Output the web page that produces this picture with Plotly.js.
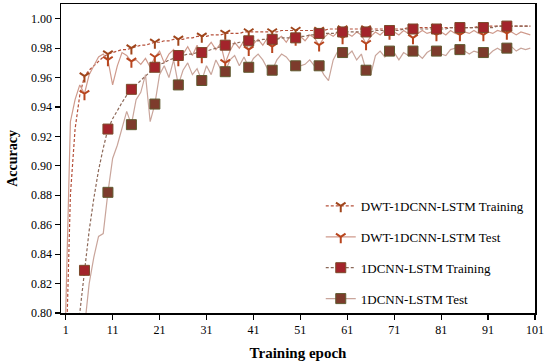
<!DOCTYPE html>
<html>
<head>
<meta charset="utf-8">
<script src="https://cdn.plot.ly/plotly-3.0.1.min.js"></script>
<style>html,body{margin:0;padding:0;background:#fff}#chart{width:550px;height:362px}</style>
</head>
<body>
<div id="chart"></div>
<script>
// Epochs 1..100
var epochs = [];
for (var i = 1; i <= 100; i++) epochs.push(i);

var seriesNames = ["DWT-1DCNN-LSTM Training", "DWT-1DCNN-LSTM Test", "1DCNN-LSTM Training", "1DCNN-LSTM Test"];

var dwtTrain = [0.760,0.880,0.925,0.948,0.961,0.965,0.968,0.971,0.974,0.976,
0.977,0.978,0.979,0.979,0.980,0.981,0.982,0.982,0.983,0.984,
0.984,0.985,0.985,0.986,0.986,0.986,0.987,0.987,0.988,0.988,
0.988,0.989,0.989,0.989,0.990,0.990,0.990,0.990,0.991,0.991,
0.991,0.991,0.991,0.991,0.991,0.991,0.992,0.992,0.992,0.992,
0.992,0.992,0.992,0.992,0.992,0.992,0.993,0.993,0.993,0.993,
0.993,0.993,0.993,0.993,0.993,0.993,0.993,0.993,0.993,0.993,
0.993,0.993,0.993,0.994,0.994,0.994,0.994,0.994,0.994,0.994,
0.994,0.994,0.994,0.994,0.994,0.994,0.994,0.994,0.995,0.995,
0.995,0.995,0.995,0.995,0.995,0.995,0.995,0.995,0.995,0.995];

var dwtTest = [0.800,0.930,0.945,0.955,0.949,0.962,0.968,0.974,0.976,0.972,
0.955,0.968,0.977,0.975,0.971,0.972,0.969,0.973,0.967,0.974,
0.978,0.970,0.976,0.979,0.972,0.976,0.981,0.975,0.982,0.974,
0.980,0.984,0.979,0.983,0.970,0.978,0.984,0.980,0.985,0.979,
0.983,0.986,0.982,0.987,0.981,0.986,0.988,0.984,0.989,0.986,
0.988,0.985,0.989,0.987,0.982,0.987,0.990,0.988,0.991,0.987,
0.990,0.988,0.991,0.989,0.983,0.988,0.991,0.989,0.992,0.990,
0.991,0.989,0.992,0.990,0.987,0.990,0.992,0.990,0.991,0.989,
0.991,0.989,0.992,0.990,0.989,0.991,0.990,0.992,0.990,0.989,
0.991,0.990,0.992,0.991,0.990,0.991,0.989,0.991,0.990,0.989];

var cnnTrain = [0.700,0.740,0.770,0.800,0.829,0.856,0.878,0.897,0.912,0.925,
0.932,0.938,0.943,0.948,0.952,0.955,0.958,0.961,0.964,0.967,
0.969,0.970,0.972,0.973,0.975,0.975,0.976,0.976,0.977,0.977,
0.978,0.979,0.980,0.981,0.982,0.983,0.983,0.984,0.984,0.985,
0.985,0.985,0.986,0.986,0.986,0.986,0.987,0.987,0.987,0.987,
0.988,0.988,0.989,0.989,0.990,0.990,0.990,0.990,0.991,0.991,
0.991,0.991,0.991,0.991,0.991,0.991,0.992,0.992,0.992,0.992,
0.992,0.992,0.993,0.993,0.993,0.993,0.993,0.993,0.993,0.993,
0.993,0.993,0.994,0.994,0.994,0.994,0.994,0.994,0.994,0.994,
0.994,0.994,0.995,0.995,0.995,0.995,0.995,0.995,0.995,0.995];

var cnnTest = [0.700,0.730,0.760,0.780,0.790,0.820,0.838,0.852,0.854,0.882,
0.905,0.914,0.926,0.937,0.928,0.945,0.950,0.962,0.930,0.942,
0.962,0.968,0.960,0.972,0.955,0.965,0.970,0.962,0.966,0.958,
0.968,0.962,0.972,0.966,0.964,0.972,0.975,0.968,0.974,0.967,
0.973,0.976,0.972,0.966,0.965,0.972,0.976,0.974,0.970,0.968,
0.968,0.969,0.972,0.968,0.968,0.962,0.958,0.972,0.978,0.977,
0.975,0.978,0.972,0.976,0.965,0.962,0.975,0.978,0.974,0.978,
0.977,0.972,0.977,0.975,0.978,0.976,0.973,0.977,0.979,0.978,
0.976,0.975,0.979,0.980,0.979,0.978,0.976,0.978,0.977,0.977,
0.975,0.978,0.980,0.978,0.980,0.981,0.978,0.980,0.979,0.980];

var xTickVals = [1,11,21,31,41,51,61,71,81,91,101];
var yTickVals = [0.80,0.82,0.84,0.86,0.88,0.90,0.92,0.94,0.96,0.98,1.00];

var markerEvery = 5;

function markerPts(arr) {
  var xs = [], ys = [];
  for (var i = 0; i < epochs.length; i++) {
    if (epochs[i] % markerEvery === 0 && epochs[i] < 100) { xs.push(epochs[i]); ys.push(arr[i]); }
  }
  return {x: xs, y: ys};
}

var styles = [
  {line: {color: '#b5503a', width: 1.2, dash: '3px,2px'}, marker: {symbol: 'y-down', size: 8, color: '#a0461c', line: {color: '#a0461c', width: 2}}},
  {line: {color: '#cf9a8c', width: 1.2}, marker: {symbol: 'y-down', size: 8, color: '#b8451e', line: {color: '#b8451e', width: 2}}},
  {line: {color: '#8c6858', width: 1.2, dash: '3px,2px'}, marker: {symbol: 'square', size: 10, color: '#a3242b', line: {color: '#7b4a2a', width: 1}}},
  {line: {color: '#c9a59b', width: 1.2}, marker: {symbol: 'square', size: 10, color: '#7d3b2c', line: {color: '#5f5a30', width: 1}}}
];
var dataArrs = [dwtTrain, dwtTest, cnnTrain, cnnTest];

var traces = [];
for (var k = 0; k < 4; k++) {
  traces.push({x: epochs, y: dataArrs[k], mode: 'lines', line: styles[k].line, showlegend: false, hoverinfo: 'skip', legendgroup: 'g' + k});
}
for (var k = 0; k < 4; k++) {
  var mp = markerPts(dataArrs[k]);
  traces.push({x: mp.x, y: mp.y, mode: 'markers', marker: styles[k].marker, showlegend: false, legendgroup: 'g' + k});
}
for (var k = 0; k < 4; k++) {
  traces.push({x: [null], y: [null], mode: 'lines+markers', name: seriesNames[k], line: styles[k].line, marker: styles[k].marker, legendgroup: 'g' + k, showlegend: true});
}

var font = '"Liberation Serif", "Times New Roman", serif';
var layout = {
  width: 550, height: 362,
  margin: {l: 61, r: 15, t: 4, b: 49},
  paper_bgcolor: '#fff', plot_bgcolor: '#fff',
  font: {family: font, size: 12, color: '#000'},
  showlegend: true,
  legend: {x: 0.548, y: 0.395, xanchor: 'left', yanchor: 'top', bgcolor: 'rgba(0,0,0,0)', font: {family: font, size: 13, color: '#000'}, itemwidth: 30, tracegroupgap: 11, traceorder: 'grouped'},
  xaxis: {
    range: [0, 101], tickvals: xTickVals, ticktext: xTickVals.map(String),
    showgrid: false, zeroline: false, showline: true, linecolor: '#000', linewidth: 1.5, mirror: true,
    ticks: 'outside', ticklen: 5, tickwidth: 1.2, tickcolor: '#000',
    tickfont: {family: font, size: 12},
    title: {text: '<b>Training epoch</b>', font: {family: font, size: 15}, standoff: 11}
  },
  yaxis: {
    range: [0.80, 1.01], tickvals: yTickVals, ticktext: yTickVals.map(function(v){return v.toFixed(2);}),
    showgrid: false, zeroline: false, showline: true, linecolor: '#000', linewidth: 1.5, mirror: true,
    ticks: 'outside', ticklen: 5, tickwidth: 1.2, tickcolor: '#000',
    tickfont: {family: font, size: 12},
    title: {text: '<b>Accuracy</b>', font: {family: font, size: 14}, standoff: 10}
  }
};

Plotly.newPlot('chart', traces, layout, {staticPlot: true, displayModeBar: false});
</script>
</body>
</html>
